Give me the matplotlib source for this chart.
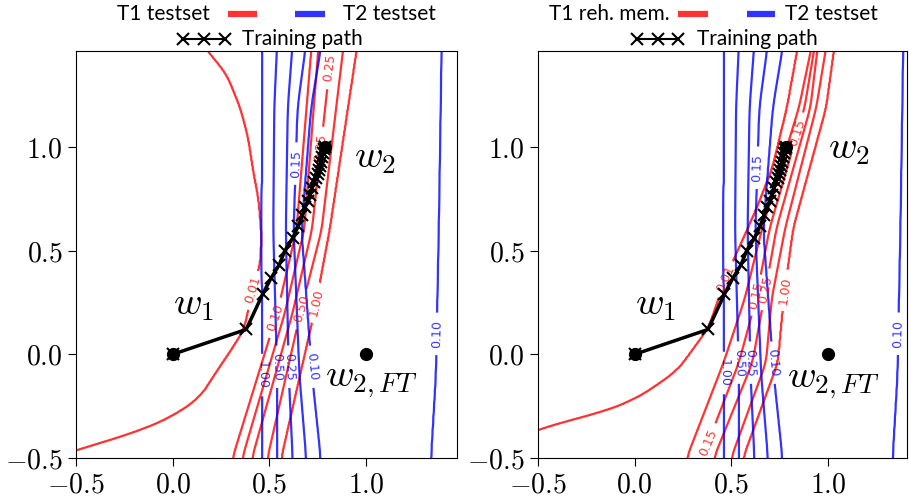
import numpy as np
import matplotlib
matplotlib.use("Agg")
import matplotlib.pyplot as plt
from matplotlib.ticker import FuncFormatter

plt.rcParams['font.family'] = ['Lato', 'DejaVu Sans']
plt.rcParams['mathtext.fontset'] = 'cm'

# --- contour lines: for each level, x position at some heights y ---
# T2 testset (same in both panels), ordered left -> right
t2_levels = [1.00, 0.50, 0.25, 0.15, 0.10, 0.04, 0.10]
t2_y = [-0.5, -0.1, 0.6, 1.19, 1.5]
t2_x = [
    [0.465, 0.465, 0.46, 0.465, 0.465],
    [0.54, 0.54, 0.52, 0.525, 0.54],
    [0.62, 0.60, 0.585, 0.595, 0.62],
    [0.69, 0.655, 0.625, 0.645, 0.69],
    [0.765, 0.72, 0.665, 0.715, 0.77],
    [1.05, 1.05, 1.05, 1.05, 1.05],
    [1.335, 1.36, 1.375, 1.385, 1.39],
]

# T1 testset (left panel)
t1_levels = [0.01, 0.10, 0.15, 0.25, 0.50, 1.00]
t1_y = [
    [-0.6, -0.463, -0.43, -0.37, -0.30, -0.21, -0.08, 0.03, 0.12, 0.31, 0.44, 0.58,
     0.75, 0.87, 1.05, 1.19, 1.35, 1.5],
    [-0.5, 0.2, 0.6, 1.5],
    [-0.5, 0.2, 0.6, 1.5],
    [-0.5, 0.2, 0.6, 1.5],
    [-0.5, 0.2, 0.6, 1.5],
    [-0.5, 0.2, 0.6, 1.5],
]
t1_x = [
    [-0.95, -0.5, -0.38, -0.17, 0.0, 0.14, 0.23, 0.31, 0.37, 0.415, 0.455, 0.46,
     0.445, 0.42, 0.39, 0.35, 0.28, 0.15],
    [0.31, 0.54, 0.64, 0.72],
    [0.36, 0.58, 0.68, 0.755],
    [0.41, 0.62, 0.72, 0.825],
    [0.49, 0.66, 0.77, 0.885],
    [0.56, 0.73, 0.81, 0.955],
]

# T1 rehearsal memory (right panel)
rm_levels = [0.01, 0.10, 0.15, 0.25, 0.50, 1.00]
rm_y = [
    [-0.6, -0.357, -0.285, -0.22, -0.14, -0.08, 0.02, 0.13, 0.32, 0.44, 0.56, 0.72,
     0.9, 1.19, 1.5],
    [-0.5, -0.04, 0.27, 0.61, 1.19, 1.5],
    [-0.5, -0.04, 0.27, 0.61, 1.19, 1.5],
    [-0.5, -0.04, 0.27, 0.61, 1.19, 1.5],
    [-0.5, -0.04, 0.27, 0.61, 1.19, 1.5],
    [-0.5, -0.04, 0.27, 0.61, 1.19, 1.5],
]
rm_x = [
    [-1.0, -0.5, -0.18, 0.0, 0.13, 0.22, 0.30, 0.385, 0.455, 0.505, 0.565, 0.64,
     0.715, 0.79, 0.85],
    [0.27, 0.46, 0.57, 0.66, 0.85, 0.92],
    [0.35, 0.54, 0.63, 0.70, 0.88, 0.935],
    [0.41, 0.61, 0.67, 0.735, 0.91, 0.95],
    [0.50, 0.68, 0.71, 0.78, 0.94, 0.995],
    [0.56, 0.74, 0.77, 0.82, 0.99, 1.035],
]

# training path
path_x = [0.0, 0.38, 0.465, 0.51, 0.55, 0.58, 0.62, 0.65, 0.67, 0.685, 0.70, 0.71,
          0.72, 0.73, 0.74, 0.75, 0.755, 0.76, 0.765, 0.77, 0.775, 0.78, 0.785]
path_y = [0.0, 0.12, 0.29, 0.37, 0.43, 0.50, 0.56, 0.62, 0.67, 0.71, 0.74, 0.77,
          0.80, 0.83, 0.85, 0.87, 0.89, 0.91, 0.93, 0.95, 0.97, 0.99, 1.0]
pts_x = [0.0, 0.785, 1.0]
pts_y = [0.0, 1.0, 0.0]

xg = np.linspace(-0.5, 1.5, 500)
yg = np.linspace(-0.7, 1.7, 600)


def smooth(v, n):
    pad = np.pad(v, n // 2, mode='edge')
    return np.convolve(pad, np.ones(n) / n, mode='valid')


def build_field(levels, ys, xs, lo, hi, n):
    # x position of every level on every grid row, smoothed along y
    pos = [smooth(np.interp(yg, a, b), n) for a, b in zip(ys, xs)]
    pv = [np.log10(lo)] + list(np.log10(levels)) + [np.log10(hi)]
    Z = np.empty((len(yg), len(xg)))
    for i in range(len(yg)):
        px = [-3.0] + [p[i] for p in pos] + [3.0]
        Z[i] = np.interp(xg, px, pv)
    return 10 ** Z


Z2 = build_field(t2_levels, [t2_y] * len(t2_x), t2_x, 5.0, 0.4, 41)
Z1 = build_field(t1_levels, t1_y, t1_x, 0.001, 5.0, 25)
Zr = build_field(rm_levels, rm_y, rm_x, 0.001, 5.0, 25)

fig = plt.figure(figsize=(9.09, 4.96), dpi=100)
ax1 = fig.add_axes([76 / 909, 38 / 496, 381 / 909, 407 / 496])
ax2 = fig.add_axes([538 / 909, 38 / 496, 369 / 909, 407 / 496])

fmt = FuncFormatter(lambda v, p: '$%.1f$' % v)
lvls = [0.01, 0.10, 0.15, 0.25, 0.50, 1.00]
blue_lvls = [0.10, 0.15, 0.25, 0.50, 1.00]

# legend pieces in axes fraction: text right end, red handle, blue handle, T2 text, xxx handle, path text
setups = [
    (ax1, Z1, 'T1 testset', 1.47,
     [(0.41, 0.31), (0.545, 0.17), (0.66, 0.22), (0.735, 0.25), (0.81, 1.38), (0.745, 1.0)],
     [(0.465, -0.10), (0.54, -0.06), (0.595, -0.06), (0.72, -0.06), (0.635, 0.92), (1.34, 0.10)],
     (0.352, (0.399, 0.475), (0.575, 0.654), 0.701, (0.281, 0.336, 0.392), 0.436),
     [(0.0, 0.236), (0.94, 0.945), (0.785, -0.135)]),
    (ax2, Zr, 'T1 reh. mem.', 1.41,
     [(0.37, -0.42), (0.46, 0.37), (0.65, 0.28), (0.69, 0.31), (0.77, 0.31), (0.84, 1.07)],
     [(0.47, -0.09), (0.53, -0.04), (0.60, -0.04), (0.72, -0.04), (0.64, 0.90), (1.35, 0.10)],
     (0.358, (0.379, 0.461), (0.566, 0.642), 0.669, (0.268, 0.325, 0.379), 0.431),
     [(0.0, 0.236), (1.0, 0.99), (0.79, -0.14)]),
]

for ax, Zred, name, xmax, red_lab, blue_lab, lg, txt in setups:
    cr = ax.contour(xg, yg, Zred, levels=lvls, colors='red', alpha=0.8, linewidths=1.6)
    cb = ax.contour(xg, yg, Z2, levels=blue_lvls, colors='blue', alpha=0.8, linewidths=1.6)
    ax.clabel(cr, manual=red_lab, inline=True, fontsize=9, fmt='%.2f')
    ax.clabel(cb, manual=blue_lab, inline=True, fontsize=9, fmt='%.2f')
    for t in cr.labelTexts + cb.labelTexts:
        t.set_family('DejaVu Sans')

    ax.plot(path_x, path_y, 'k-x', lw=2.5, ms=8, mew=1.5, zorder=5)
    ax.plot(pts_x, pts_y, 'ko', ms=8.5, zorder=6)

    ax.text(txt[0][0], txt[0][1], '$w_1$', fontsize=28, va='center', ha='left')
    ax.text(txt[1][0], txt[1][1], '$w_2$', fontsize=28, va='center', ha='left')
    ax.text(txt[2][0], txt[2][1], '$w_{2,FT}$', fontsize=28, va='center', ha='left')

    ax.set_xlim(-0.5, xmax)
    ax.set_ylim(-0.5, 1.463)
    ax.set_xticks([-0.5, 0.0, 0.5, 1.0])
    ax.set_yticks([-0.5, 0.0, 0.5, 1.0])
    ax.xaxis.set_major_formatter(fmt)
    ax.yaxis.set_major_formatter(fmt)
    ax.tick_params(labelsize=20, length=6)

    # legend drawn by hand (text before the red handle, after the blue one)
    tr = ax.transAxes
    row1, row1_base, row2, row2_base = 1.091, 1.076, 1.029, 1.015
    ax.text(lg[0], row1_base, name, transform=tr, fontsize=15, ha='right', va='baseline')
    ax.plot(lg[1], [row1, row1], color='red', alpha=0.8, lw=4.5, solid_capstyle='butt',
            transform=tr, clip_on=False)
    ax.plot(lg[2], [row1, row1], color='blue', alpha=0.8, lw=4.5, solid_capstyle='butt',
            transform=tr, clip_on=False)
    ax.text(lg[3], row1_base, 'T2 testset', transform=tr, fontsize=15, ha='left', va='baseline')
    ax.plot(lg[4], [row2] * 3, 'k-x', lw=1.5, ms=8, mew=1.5, transform=tr, clip_on=False)
    ax.text(lg[5], row2_base, 'Training path', transform=tr, fontsize=15, ha='left', va='baseline')

fig.savefig('out.png', dpi=100)
